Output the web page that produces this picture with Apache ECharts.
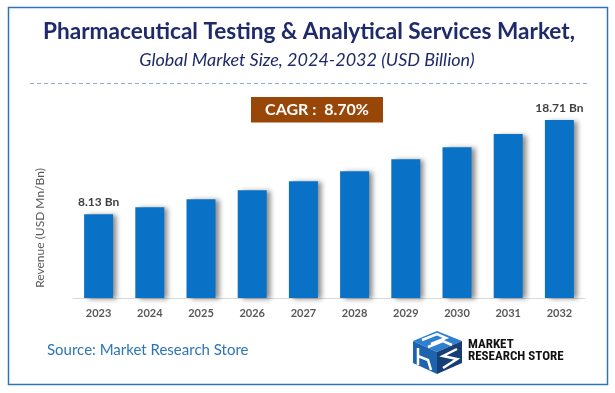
<!DOCTYPE html>
<html>
<head>
<meta charset="utf-8">
<script src="https://cdn.jsdelivr.net/npm/echarts@6/dist/echarts.min.js"></script>
<style>
html,body{margin:0;padding:0;background:#fff;}
#c{width:615px;height:393px;}
</style>
</head>
<body>
<div id="c"></div>
<script>
const years = ['2023','2024','2025','2026','2027','2028','2029','2030','2031','2032'];
const revenue = [8.13, 8.92, 9.81, 10.82, 11.83, 12.95, 14.30, 15.65, 17.14, 18.71];
const titleText = 'Pharmaceutical Testing & Analytical Services Market,';
const subtitleText = 'Global Market Size, 2024-2032 (USD Billion)';
const cagrText = 'CAGR :  8.70%';
const yAxisName = 'Revenue (USD Mn/Bn)';
const sourceText = 'Source: Market Research Store';

const chart = echarts.init(document.getElementById('c'), null, {renderer:'canvas'});
const FONT = 'Lato, "Open Sans", sans-serif';
const lastIdx = revenue.length - 1;
const Y_MIN = -1.26, Y_MAX = 20, BAR_W = 29;

const option = {
  backgroundColor: '#ffffff',
  animation: false,
  grid: {left: 73, right: 30, top: 108.5, bottom: 95},
  xAxis: {
    type: 'category',
    data: years,
    axisLine: {onZero: false, lineStyle: {color: '#D9D9D9', width: 1}},
    axisTick: {show: false},
    axisLabel: {color: '#595959', fontFamily: FONT, fontWeight: 'bold', fontSize: 11, margin: 10}
  },
  yAxis: {
    type: 'value',
    min: Y_MIN,
    max: Y_MAX,
    axisLine: {show: false},
    axisTick: {show: false},
    axisLabel: {show: false},
    splitLine: {show: false}
  },
  series: [{
    type: 'custom',
    data: revenue.map((v, i) => [i, v]),
    encode: {x: 0, y: 1},
    renderItem: function (params, api) {
      const i = api.value(0), v = api.value(1);
      const top = api.coord([i, v]);
      const base = api.coord([i, Y_MIN]);
      const children = [{
        type: 'rect',
        shape: {x: top[0] - BAR_W / 2, y: top[1], width: BAR_W, height: base[1] - top[1]},
        style: {
          fill: '#0A72C6',
          shadowColor: 'rgba(0,0,0,0.45)',
          shadowBlur: 5,
          shadowOffsetX: 4,
          shadowOffsetY: 1
        }
      }];
      if (params.dataIndex === 0 || params.dataIndex === lastIdx) {
        children.push({
          type: 'text',
          x: top[0],
          y: top[1] - 6,
          style: {
            text: v.toFixed(2) + ' Bn',
            fill: '#404040',
            font: 'bold 12px ' + FONT,
            textAlign: 'center',
            textVerticalAlign: 'bottom'
          }
        });
      }
      return {type: 'group', children: children};
    }
  }],
  graphic: [
    {type:'rect', shape:{x:8.5, y:7.5, width:599, height:377}, style:{fill:'none', stroke:'#2E75B6', lineWidth:1.5}, z:-1},
    {type:'text', x:309, y:32, style:{text:titleText, fill:'#1F2A6B', font:'bold 22.6px '+FONT, textAlign:'center', textVerticalAlign:'middle'}},
    {type:'text', x:307, y:60, style:{text:subtitleText, fill:'#1F2A6B', font:'italic 18px '+FONT, textAlign:'center', textVerticalAlign:'middle'}},
    {type:'line', shape:{x1:30, y1:83.5, x2:588, y2:83.5}, style:{stroke:'#8FAADC', lineWidth:1, lineDash:[4,3]}},
    {type:'rect', shape:{x:251, y:97, width:132, height:25.5}, style:{fill:'#994708'}},
    {type:'text', x:317, y:110, style:{text:cagrText, fill:'#ffffff', font:'bold 16px '+FONT, textAlign:'center', textVerticalAlign:'middle'}},
    {type:'text', x:40, y:228, rotation:Math.PI/2, style:{text:yAxisName, fill:'#595959', font:'12px '+FONT, textAlign:'center', textVerticalAlign:'middle'}},
    {type:'text', x:47, y:350, style:{text:sourceText, fill:'#2E75B6', font:'15px '+FONT, textAlign:'left', textVerticalAlign:'middle'}},
    // logo
    {type:'polygon', shape:{points:[[413,341],[437,331],[462,341],[437,352]]}, style:{fill:'#2F7FD1'}},
    {type:'polygon', shape:{points:[[413,341],[437,352],[437,374],[413,363]]}, style:{fill:'#1E63AE'}},
    {type:'polygon', shape:{points:[[437,352],[462,341],[462,363],[437,374]]}, style:{fill:'#173F73'}},
    {type:'polyline', shape:{points:[[422,340],[437,334],[446,338],[431,344]]}, style:{stroke:'#ffffff', lineWidth:2.5, fill:'none'}},
    {type:'polyline', shape:{points:[[428,347],[443,341],[452,345]]}, style:{stroke:'#ffffff', lineWidth:2.5, fill:'none'}},
    {type:'polyline', shape:{points:[[418,348],[418,365],[418,356],[428,360],[431,370]]}, style:{stroke:'#ffffff', lineWidth:2.5, fill:'none'}},
    {type:'polyline', shape:{points:[[457,349],[443,356],[457,359],[443,368]]}, style:{stroke:'#ffffff', lineWidth:2.5, fill:'none'}},
    {type:'text', x:468, y:345, style:{text:'MARKET', fill:'#111111', font:'bold 13px "Liberation Sans Narrow", "Roboto Condensed", Roboto, sans-serif', textAlign:'left', textVerticalAlign:'middle'}},
    {type:'text', x:468, y:357, style:{text:'RESEARCH STORE', fill:'#111111', font:'bold 13px "Liberation Sans Narrow", "Roboto Condensed", Roboto, sans-serif', textAlign:'left', textVerticalAlign:'middle'}}
  ]
};
chart.setOption(option);
</script>
</body>
</html>
